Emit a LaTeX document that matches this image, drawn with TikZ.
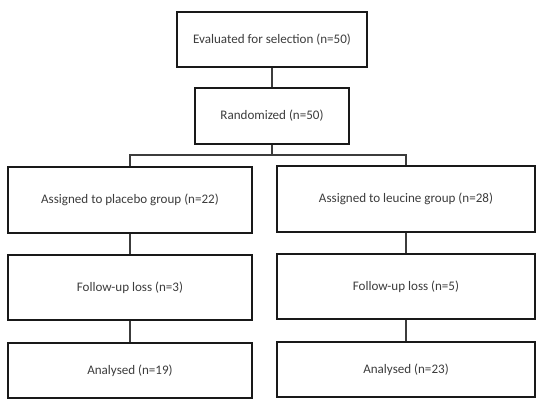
\documentclass[tikz,border=0pt]{standalone}
\usepackage{fontspec}
\setmainfont{Carlito}
\usetikzlibrary{calc}
\definecolor{inkgray}{RGB}{60,60,60}
\definecolor{framegray}{RGB}{25,25,25}
\tikzset{
    flowbox/.style={draw=framegray,line width=1.8pt,inner sep=0pt,font=\fontsize{9.8}{11}\selectfont,text=inkgray},
    topbox/.style={flowbox,minimum width=142.5pt,minimum height=41pt},
    randbox/.style={flowbox,minimum width=115.5pt,minimum height=42pt},
    leftbox/.style={flowbox,minimum width=183pt},
    rightbox/.style={flowbox,minimum width=193.5pt},
    link/.style={draw=inkgray,line width=0.8pt}
}
\begin{document}
\begin{tikzpicture}[x=0.75pt,y=-0.75pt]
    \useasboundingbox (0,0) rectangle (545,409);
    % Enrolment
    \node[topbox] (eval) at (272,39.5) {Evaluated for selection (n=50)};
    \node[randbox] (rand) at (272,116) {Randomized (n=50)};
    % Placebo arm
    \node[leftbox,minimum height=49.5pt] (plc) at (130,200) {Assigned to placebo group (n=22)};
    \node[leftbox,minimum height=49pt] (plcloss) at (130,287.5) {Follow-up loss (n=3)};
    \node[leftbox,minimum height=41pt] (plcan) at (130,370.5) {Analysed (n=19)};
    % Leucine arm
    \node[rightbox,minimum height=49.5pt] (leu) at (406,199) {Assigned to leucine group (n=28)};
    \node[rightbox,minimum height=49pt] (leuloss) at (406,286.5) {Follow-up loss (n=5)};
    \node[rightbox,minimum height=41pt] (leuan) at (406,369.5) {Analysed (n=23)};
    % Links
    \coordinate (split) at (272,155);
    \draw[link] (eval.south) -- (rand.north);
    \draw[link] (rand.south) -- (split);
    \draw[link] (split) -| (plc.north);
    \draw[link] (split) -| (leu.north);
    \draw[link] (plc.south) -- (plcloss.north);
    \draw[link] (plcloss.south) -- (plcan.north);
    \draw[link] (leu.south) -- (leuloss.north);
    \draw[link] (leuloss.south) -- (leuan.north);
\end{tikzpicture}
\end{document}
